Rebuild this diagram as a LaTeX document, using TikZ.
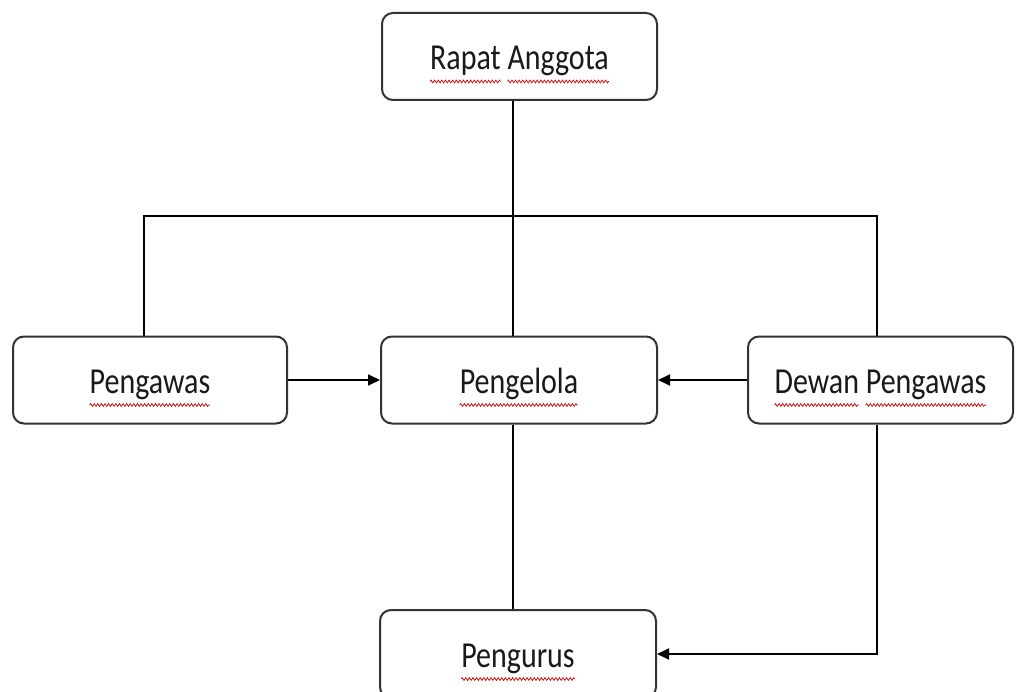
\documentclass[tikz,border=0pt]{standalone}
\usepackage{fontspec}
\setmainfont{Carlito}
\usetikzlibrary{arrows.meta,decorations.pathmorphing}
\newcommand\wv[1]{\tikz[baseline=(w.base)]{\node[inner sep=0pt,outer sep=0pt,draw=none,fill=none,rectangle,minimum width=0pt,minimum height=0pt,rounded corners=0pt,text height=,text depth=] (w) {\scalebox{1}[1.22]{#1}};\draw[overlay,red!80!black,line width=0.7pt,rounded corners=0pt,decorate,decoration={zigzag,amplitude=1.4pt,segment length=3.6pt}] ([yshift=-12pt]w.base west) -- ([yshift=-12pt]w.base east);}}
\begin{document}
\begin{tikzpicture}[x=1pt,y=-1pt,
  box/.style={draw=black!80, line width=2pt, rounded corners=11pt, minimum height=87pt, inner sep=0pt, text height=32pt, text depth=6pt, text=black!90, font=\fontsize{30}{36}\selectfont},
  conn/.style={line width=1.9pt},
  arr/.style={conn,-{Triangle[length=12pt,width=11pt]}}]
\useasboundingbox (0,0) rectangle (1016,692);
\node[box,minimum width=275pt] (rapat) at (519.5,56.5) {\wv{Rapat} \wv{Anggota}};
\node[box,minimum width=274pt] (pengawas) at (150,380) {\wv{Pengawas}};
\node[box,minimum width=276pt] (pengelola) at (519,380) {\wv{Pengelola}};
\node[box,minimum width=265pt] (dewan) at (880.5,380) {\wv{Dewan} \wv{Pengawas}};
\node[box,minimum width=276pt,minimum height=88pt] (pengurus) at (518,654) {\wv{Pengurus}};
\coordinate (barL) at (144,216);
\coordinate (barM) at (513,216);
\coordinate (barR) at (877,216);
\draw[conn] (rapat.south -| barM) -- (pengelola.north -| barM);
\draw[conn] (pengawas.north -| barL) |- (barR) -- (dewan.north -| barR);
\draw[arr] (pengawas.east) -- (pengelola.west);
\draw[arr] (dewan.west) -- (pengelola.east);
\draw[conn] (pengelola.south -| barM) -- (pengurus.north -| barM);
\draw[arr] (dewan.south -| barR) |- (pengurus.east);
\end{tikzpicture}
\end{document}
